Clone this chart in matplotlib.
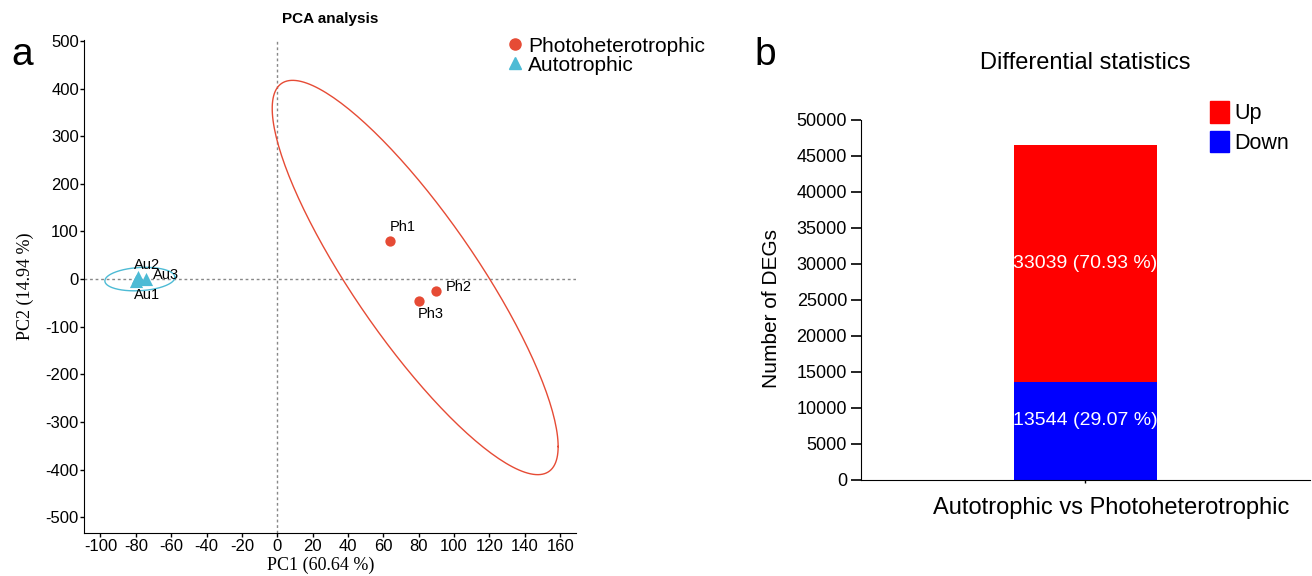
"""PCA analysis and differential statistics, two panels."""

import numpy as np
import matplotlib.pyplot as plt
import matplotlib.transforms as mtrans
from matplotlib.lines import Line2D
from matplotlib.patches import Patch

plt.rcParams['axes.unicode_minus'] = False

# PCA scores
ph_names = ['Ph1', 'Ph2', 'Ph3']
ph_pc1 = [64, 90, 80]
ph_pc2 = [80, -25, -45]
au_names = ['Au1', 'Au2', 'Au3']
au_pc1 = [-80, -79, -74]
au_pc2 = [-4, 4, 0]

# DEG counts
comparison = ['Autotrophic vs Photoheterotrophic']
deg_down = [13544]
deg_up = [33039]

red = '#E64B35'
cyan = '#4DBBD5'
narrow = ['Liberation Sans Narrow', 'Liberation Sans', 'DejaVu Sans']
arial = ['Liberation Sans', 'DejaVu Sans']
serif = ['Liberation Serif', 'DejaVu Serif']


def conf_ellipse(x, y, f_quant=19.0):
    # same as ggplot stat_ellipse (t, level 0.95): radius sqrt(2 * F(0.95, 2, n-1))
    pts = np.column_stack([x, y]).astype(float)
    center = pts.mean(axis=0)
    chol = np.linalg.cholesky(np.cov(pts.T))
    t = np.linspace(0, 2 * np.pi, 200)
    circle = np.vstack([np.cos(t), np.sin(t)])
    ell = center[:, None] + np.sqrt(2 * f_quant) * chol @ circle
    return ell[0], ell[1]


fig = plt.figure(figsize=(13.12, 5.76), dpi=100)

# panel a
ax1 = fig.add_axes([0.0644, 0.0747, 0.3747, 0.8559])
ax1.axhline(0, color='#888888', ls=(0, (2, 2)), lw=1, zorder=1)
ax1.axvline(0, color='#888888', ls=(0, (2, 2)), lw=1, zorder=1)

ex, ey = conf_ellipse(ph_pc1, ph_pc2)
ax1.plot(ex, ey, color=red, lw=1)
ex, ey = conf_ellipse(au_pc1, au_pc2)
ax1.plot(ex, ey, color=cyan, lw=1)

ax1.scatter(ph_pc1, ph_pc2, s=55, color=red, marker='o', zorder=3, linewidths=0)
ax1.scatter(au_pc1, au_pc2, s=90, color=cyan, marker='^', zorder=3, linewidths=0)

ph_off = [(9, 10, 'center'), (6.5, 3, 'left'), (8.5, -10, 'center')]
for name, x, y, (dx, dy, ha) in zip(ph_names, ph_pc1, ph_pc2, ph_off):
    ax1.annotate(name, (x, y), xytext=(dx, dy), textcoords='offset points',
                 ha=ha, va='center', fontsize=10.5, family=arial)
au_off = [(8, -10, 'center'), (7, 9, 'center'), (5, 3, 'left')]
for name, x, y, (dx, dy, ha) in zip(au_names, au_pc1, au_pc2, au_off):
    ax1.annotate(name, (x, y), xytext=(dx, dy), textcoords='offset points',
                 ha=ha, va='center', fontsize=10.5, family=arial)

ax1.set_xlim(-109, 169)
ax1.set_ylim(-533, 502)
ax1.set_xticks(range(-100, 161, 20))
ax1.set_yticks(range(-500, 501, 100))
ax1.spines['top'].set_visible(False)
ax1.spines['right'].set_visible(False)
ax1.tick_params(length=3, width=1, labelsize=12, pad=1)
for lab in ax1.get_xticklabels() + ax1.get_yticklabels():
    lab.set_family(narrow)
ax1.set_xlabel('PC1 (60.64 %)', family=serif, fontsize=13)
ax1.set_ylabel('PC2 (14.94 %)', family=serif, fontsize=13)
ax1.xaxis.set_label_coords(0.48, -0.048)
ax1.yaxis.set_label_coords(-0.102, 0.5)
ax1.set_title('PCA analysis', fontsize=11, fontweight='bold', family=arial, pad=12)

handles = [Line2D([], [], marker='o', ls='', color=red, markersize=8),
           Line2D([], [], marker='^', ls='', color=cyan, markersize=9)]
fig.legend(handles, ['Photoheterotrophic', 'Autotrophic'], loc='upper left',
           bbox_to_anchor=(0.369, 0.969), frameon=False, handletextpad=0.0,
           labelspacing=0.0, prop={'family': arial, 'size': 15}, handlelength=1.2)

fig.text(0.009, 0.905, 'a', fontsize=28, family=arial, va='center')

# panel b
ax2 = fig.add_axes([0.6562, 0.1667, 0.3423, 0.625])
ax2.bar(comparison, deg_down, width=0.64, color='#0000FF')
ax2.bar(comparison, deg_up, bottom=deg_down, width=0.64, color='#FF0000')
total = deg_down[0] + deg_up[0]
ax2.text(0, deg_down[0] / 2 + 1500, f'{deg_down[0]} ({deg_down[0] / total * 100:.2f} %)',
         color='white', ha='center', va='center', fontsize=14, family=arial)
ax2.text(0, deg_down[0] + deg_up[0] / 2, f'{deg_up[0]} ({deg_up[0] / total * 100:.2f} %)',
         color='white', ha='center', va='center', fontsize=14, family=arial)
ax2.set_xlim(-1, 1)
ax2.set_ylim(0, 50000)
ax2.set_yticks(range(0, 50001, 5000))
ax2.spines['top'].set_visible(False)
ax2.spines['right'].set_visible(False)
ax2.tick_params(axis='y', length=7, width=1.2, labelsize=13, pad=3)
ax2.tick_params(axis='x', length=2, width=1, labelsize=17, pad=10)
for lab in ax2.get_xticklabels() + ax2.get_yticklabels():
    lab.set_family(arial)
# the category label sits a little right of its tick in the original
shift = mtrans.ScaledTranslation(26 / 100, 0, fig.dpi_scale_trans)
for lab in ax2.get_xticklabels():
    lab.set_transform(lab.get_transform() + shift)
ax2.set_ylabel('Number of DEGs', fontsize=15, family=arial)
ax2.yaxis.set_label_coords(-0.177, 0.475)
ax2.set_title('Differential statistics', fontsize=17, family=arial, pad=37)

patches = [Patch(color='#FF0000'), Patch(color='#0000FF')]
ax2.legend(patches, ['Up', 'Down'], loc='upper left', bbox_to_anchor=(0.735, 1.106),
           frameon=False, handlelength=0.85, handleheight=1.15, handletextpad=0.25,
           labelspacing=0.3, prop={'family': arial, 'size': 15.5})

fig.text(0.575, 0.905, 'b', fontsize=28, family=arial, va='center')

fig.savefig('out.png', dpi=100)
